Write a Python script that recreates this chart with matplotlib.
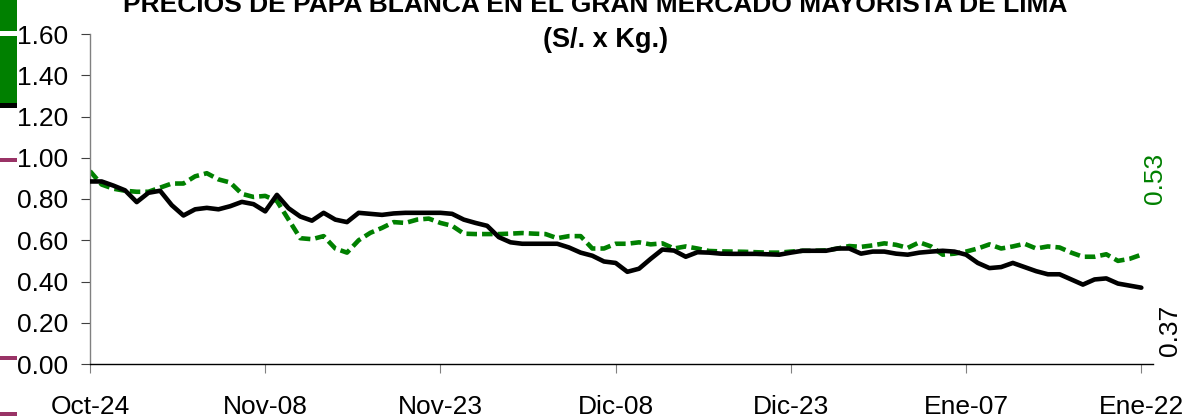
import matplotlib
matplotlib.use("Agg")
import matplotlib.pyplot as plt
from matplotlib.patches import Rectangle

# ---- data ----
days = list(range(91))  # days since Oct-24
black_prices = [
    0.885, 0.885, 0.865, 0.842, 0.785, 0.83, 0.84, 0.77, 0.72, 0.75,
    0.757, 0.75, 0.765, 0.786, 0.775, 0.74, 0.82, 0.755, 0.715, 0.695,
    0.733, 0.70, 0.688, 0.733, 0.728, 0.723, 0.73, 0.733, 0.733, 0.733,
    0.733, 0.728, 0.70, 0.684, 0.67, 0.615, 0.59, 0.583, 0.583, 0.583,
    0.583, 0.565, 0.54, 0.525, 0.497, 0.49, 0.447, 0.462, 0.51, 0.555,
    0.55, 0.52, 0.542, 0.54, 0.535, 0.534, 0.534, 0.534, 0.532, 0.53,
    0.54, 0.549, 0.549, 0.549, 0.56, 0.56, 0.535, 0.545, 0.545, 0.535,
    0.53, 0.54, 0.545, 0.549, 0.545, 0.53, 0.49, 0.465, 0.47, 0.49,
    0.47, 0.45, 0.435, 0.435, 0.41, 0.385, 0.41, 0.415, 0.39, 0.38,
    0.37,
]
green_prices = [
    0.935, 0.87, 0.85, 0.84, 0.835, 0.835, 0.855, 0.875, 0.875, 0.91,
    0.925, 0.895, 0.88, 0.825, 0.81, 0.815, 0.79, 0.70, 0.61, 0.605,
    0.62, 0.56, 0.54, 0.60, 0.636, 0.66, 0.688, 0.684, 0.70, 0.705,
    0.684, 0.67, 0.632, 0.63, 0.63, 0.63, 0.632, 0.635, 0.632, 0.63,
    0.61, 0.62, 0.62, 0.56, 0.56, 0.583, 0.583, 0.59, 0.58, 0.585,
    0.56, 0.57, 0.56, 0.548, 0.546, 0.545, 0.544, 0.542, 0.54, 0.54,
    0.545, 0.549, 0.549, 0.551, 0.56, 0.572, 0.568, 0.575, 0.585, 0.578,
    0.563, 0.59, 0.57, 0.53, 0.535, 0.545, 0.56, 0.58, 0.56, 0.57,
    0.583, 0.56, 0.57, 0.565, 0.54, 0.52, 0.52, 0.532, 0.50, 0.51,
    0.53,
]
tick_days = [0, 15, 30, 45, 60, 75, 90]
tick_labels = ["Oct-24", "Nov-08", "Nov-23", "Dic-08", "Dic-23", "Ene-07", "Ene-22"]
y_ticks = [0.0, 0.2, 0.4, 0.6, 0.8, 1.0, 1.2, 1.4, 1.6]
title_line1 = "PRECIOS DE PAPA BLANCA EN EL GRAN MERCADO MAYORISTA DE LIMA"
title_line2 = "(S/. x Kg.)"

plt.rcParams["font.family"] = ["Liberation Sans", "DejaVu Sans"]

W, H = 1195, 420
fig = plt.figure(figsize=(W / 100, H / 100), dpi=100)
ax = fig.add_axes([90 / W, 1 - 364 / H, (1153 - 90) / W, (364 - 34) / H])

GREEN = "#008000"
ax.plot(days, green_prices, color=GREEN, lw=3.3, linestyle=(0, (2.3, 1.1)),
        dash_capstyle="butt", dash_joinstyle="round", zorder=2)
ax.plot(days, black_prices, color="black", lw=3.3, solid_capstyle="round",
        solid_joinstyle="round", zorder=3)

ax.set_xlim(0, 91)
ax.set_ylim(0, 1.6)
ax.set_yticks(y_ticks)
ax.set_yticklabels([f"{v:.2f}" for v in y_ticks])
ax.set_xticks(tick_days)
ax.set_xticklabels(tick_labels)

for s in ["top", "right"]:
    ax.spines[s].set_visible(False)
ax.spines["left"].set_color("#808080")
ax.spines["left"].set_linewidth(1.0)
ax.spines["bottom"].set_color("black")
ax.spines["bottom"].set_linewidth(1.0)

ax.tick_params(axis="y", direction="out", length=6.5, width=0.8, color="#404040",
               pad=9, labelsize=19)
ax.tick_params(axis="x", direction="out", length=6.5, width=0.8, color="#808080",
               pad=16, labelsize=19)

# end-point value labels
ax.annotate(f"{green_prices[-1]:.2f}", xy=(days[-1], green_prices[-1]),
            xytext=(10, 55), textcoords="offset points", rotation=90,
            color=GREEN, fontsize=19, ha="center", va="center")
ax.annotate(f"{black_prices[-1]:.2f}", xy=(days[-1], black_prices[-1]),
            xytext=(21, -31), textcoords="offset points", rotation=90,
            color="black", fontsize=19, ha="center", va="center")

# title (partly cut off at the top, as in the reference)
fig.text(595 / W, 1 - 12 / H, title_line1, ha="center", va="baseline",
         fontsize=19, fontweight="bold")
fig.text(606 / W, 1 - 47 / H, title_line2, ha="center", va="baseline",
         fontsize=19.5, fontweight="bold")

# remnants of a legend at the left edge
def frect(x0, y0, x1, y1, color):
    fig.patches.append(Rectangle((x0 / W, 1 - y1 / H), (x1 - x0) / W, (y1 - y0) / H,
                                 transform=fig.transFigure, color=color, lw=0))

frect(0, 0, 17, 31, GREEN)
frect(0, 36, 17, 103, GREEN)
frect(0, 103, 17, 108, "black")
PURPLE = "#993366"
for yc in (160, 358, 414):
    frect(0, yc - 2, 17, yc + 2, PURPLE)

fig.savefig("out.png", dpi=100)
